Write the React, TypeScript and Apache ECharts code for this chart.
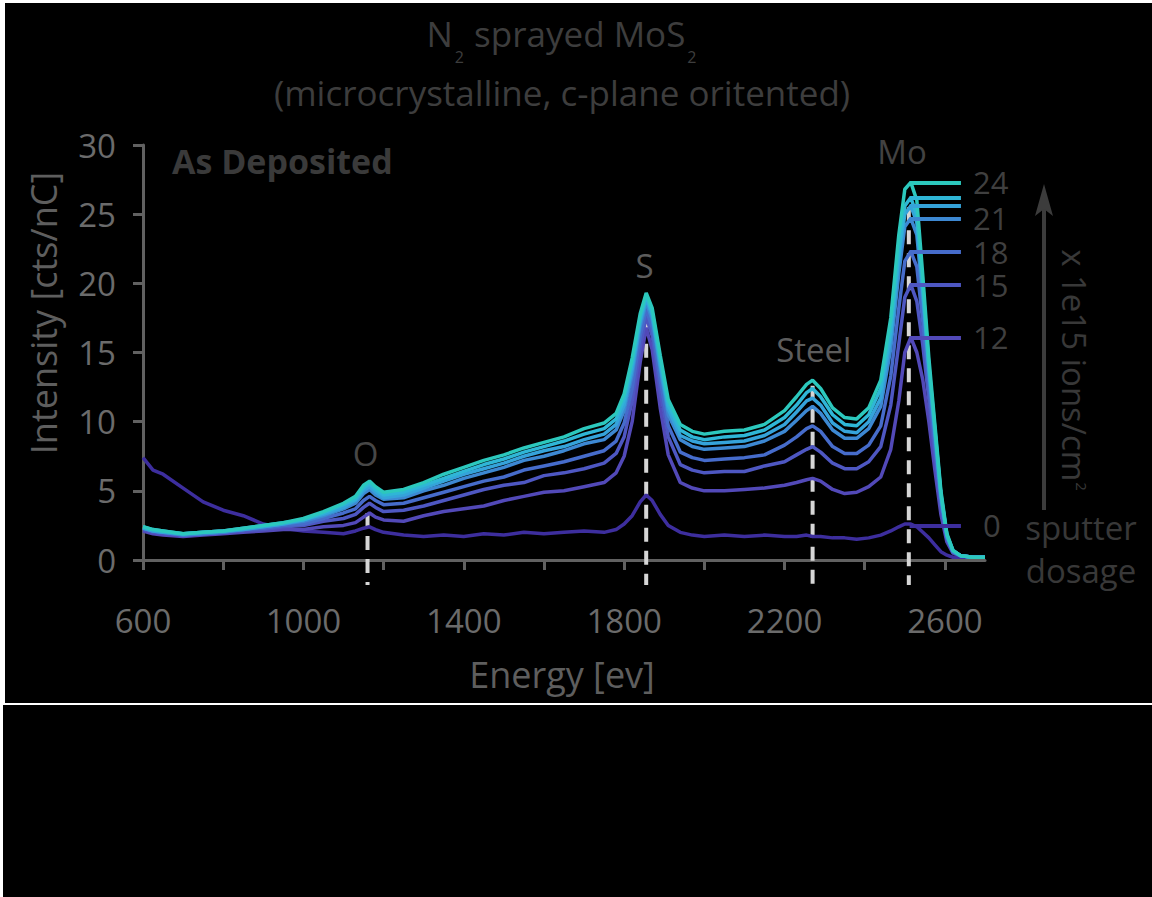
import React, { useEffect, useRef } from 'react';
import * as echarts from 'echarts';

const FONT = '"Open Sans", "Noto Sans", sans-serif';

const energy = [600, 625, 650, 700, 750, 800, 850, 900, 950, 1000, 1050, 1100, 1130, 1150, 1165, 1180, 1200, 1250, 1300, 1350, 1400, 1450, 1500, 1550, 1600, 1650, 1700, 1750, 1780, 1800, 1820, 1840, 1855, 1870, 1890, 1910, 1940, 1970, 2000, 2050, 2100, 2150, 2200, 2230, 2255, 2270, 2290, 2320, 2350, 2380, 2410, 2440, 2465, 2485, 2500, 2515, 2530, 2545, 2560, 2575, 2590, 2605, 2620, 2640, 2670, 2700];

const dose0 = [7.4, 6.5, 6.2, 5.2, 4.2, 3.6, 3.2, 2.6, 2.3, 2.1, 2.0, 1.9, 2.1, 2.3, 2.4, 2.2, 2.0, 1.8, 1.7, 1.8, 1.7, 1.9, 1.8, 2.0, 1.9, 2.0, 2.1, 2.0, 2.2, 2.6, 3.2, 4.2, 4.7, 4.3, 3.3, 2.5, 2.0, 1.8, 1.7, 1.8, 1.7, 1.8, 1.7, 1.7, 1.8, 1.7, 1.7, 1.6, 1.6, 1.5, 1.6, 1.8, 2.1, 2.4, 2.6, 2.6, 2.4, 2.0, 1.6, 1.1, 0.6, 0.35, 0.2, 0.2, 0.2, 0.2];
const dose12 = [2.1, 1.9, 1.8, 1.7, 1.8, 1.9, 2.0, 2.1, 2.2, 2.2, 2.4, 2.5, 2.7, 3.1, 3.4, 3.1, 2.9, 2.8, 3.2, 3.5, 3.7, 3.9, 4.3, 4.6, 4.9, 5.0, 5.3, 5.6, 6.3, 7.5, 10.0, 14.3, 16.8, 15.2, 11.0, 7.6, 5.6, 5.2, 5.0, 5.0, 5.1, 5.2, 5.4, 5.6, 5.8, 5.9, 5.7, 5.1, 4.8, 4.9, 5.3, 6.0, 8.0, 11.5, 15.0, 16.1, 15.0, 13.0, 10.0, 6.5, 3.3, 1.3, 0.5, 0.3, 0.2, 0.2];
const dose15 = [2.2, 2.0, 1.9, 1.8, 1.9, 2.0, 2.1, 2.2, 2.4, 2.5, 2.8, 3.0, 3.3, 3.8, 4.1, 3.8, 3.5, 3.6, 3.9, 4.3, 4.7, 5.1, 5.4, 5.6, 6.1, 6.3, 6.6, 7.0, 7.7, 8.9, 11.5, 15.4, 17.6, 16.2, 12.2, 8.9, 6.9, 6.5, 6.3, 6.4, 6.4, 6.8, 7.1, 7.6, 8.0, 8.2, 7.8, 7.0, 6.6, 6.6, 7.1, 8.2, 11.2, 15.6, 19.0, 19.9, 18.7, 15.5, 11.6, 7.6, 3.9, 1.5, 0.6, 0.3, 0.2, 0.2];
const dose18 = [2.3, 2.1, 2.0, 1.8, 1.9, 2.0, 2.2, 2.3, 2.5, 2.6, 3.0, 3.4, 3.7, 4.3, 4.6, 4.3, 4.0, 4.1, 4.5, 4.9, 5.3, 5.7, 6.0, 6.5, 6.8, 7.1, 7.5, 7.9, 8.6, 9.9, 12.4, 16.2, 18.1, 16.8, 13.0, 9.7, 7.8, 7.4, 7.2, 7.3, 7.4, 7.6, 8.3, 8.9, 9.5, 9.7, 9.3, 8.2, 7.7, 7.7, 8.3, 9.7, 13.3, 18.2, 21.6, 22.3, 21.2, 17.2, 12.6, 8.3, 4.2, 1.6, 0.6, 0.3, 0.2, 0.2];
const dose21 = [2.3, 2.1, 2.0, 1.8, 1.9, 2.0, 2.2, 2.4, 2.6, 2.8, 3.2, 3.7, 4.1, 4.8, 5.1, 4.7, 4.4, 4.5, 5.0, 5.4, 5.9, 6.3, 6.7, 7.2, 7.5, 7.9, 8.4, 8.7, 9.4, 10.8, 13.4, 16.9, 18.6, 17.4, 13.8, 10.5, 8.7, 8.2, 8.0, 8.1, 8.2, 8.6, 9.3, 10.1, 10.8, 11.1, 10.6, 9.4, 8.8, 8.8, 9.5, 11.1, 15.3, 20.7, 24.1, 24.7, 23.5, 18.8, 13.5, 9.0, 4.6, 1.7, 0.6, 0.3, 0.2, 0.2];
const dose22 = [2.3, 2.1, 2.0, 1.9, 2.0, 2.1, 2.2, 2.4, 2.6, 2.9, 3.3, 3.8, 4.3, 5.0, 5.3, 4.9, 4.5, 4.7, 5.2, 5.7, 6.2, 6.6, 7.0, 7.5, 7.9, 8.2, 8.7, 9.1, 9.8, 11.2, 13.8, 17.2, 18.9, 17.7, 14.1, 10.9, 9.0, 8.6, 8.4, 8.5, 8.6, 9.0, 9.8, 10.7, 11.5, 11.7, 11.2, 9.9, 9.3, 9.2, 10.0, 11.7, 16.1, 21.7, 25.0, 25.6, 24.4, 19.4, 13.9, 9.3, 4.7, 1.8, 0.7, 0.3, 0.2, 0.2];
const dose23 = [2.4, 2.2, 2.1, 1.9, 2.0, 2.1, 2.3, 2.5, 2.7, 2.9, 3.4, 4.0, 4.4, 5.2, 5.5, 5.1, 4.7, 4.9, 5.4, 5.9, 6.4, 6.9, 7.3, 7.8, 8.2, 8.6, 9.1, 9.5, 10.2, 11.6, 14.2, 17.5, 19.1, 17.9, 14.5, 11.2, 9.4, 8.9, 8.7, 8.9, 9.0, 9.4, 10.3, 11.2, 12.1, 12.4, 11.8, 10.5, 9.8, 9.7, 10.5, 12.4, 16.6, 22.3, 25.6, 26.2, 24.9, 19.8, 14.1, 9.5, 4.8, 1.8, 0.7, 0.3, 0.2, 0.2];
const dose24 = [2.4, 2.2, 2.1, 1.9, 2.0, 2.1, 2.3, 2.5, 2.7, 3.0, 3.5, 4.1, 4.6, 5.4, 5.7, 5.3, 4.9, 5.1, 5.6, 6.2, 6.7, 7.2, 7.6, 8.1, 8.5, 8.9, 9.5, 9.9, 10.6, 12.0, 14.6, 17.8, 19.3, 18.2, 14.8, 11.6, 9.8, 9.3, 9.1, 9.3, 9.4, 9.8, 10.8, 11.8, 12.7, 13.0, 12.4, 11.0, 10.3, 10.2, 11.0, 13.0, 17.5, 23.5, 26.8, 27.3, 26.0, 20.5, 14.6, 9.8, 5.0, 1.9, 0.7, 0.3, 0.2, 0.2];

const doses = ['0', '12', '15', '18', '21', '22', '23', '24'];
const doseSeries = [dose0, dose12, dose15, dose18, dose21, dose22, dose23, dose24];
const doseColors = ['#3d2e9e', '#5249b8', '#4e57c2', '#466ccb', '#3d88d2', '#35a3da', '#2fb6d6', '#2cc8bd'];
const peakValues = [2.5, 16.1, 19.9, 22.3, 24.7, 25.6, 26.2, 27.3];
const showDoseLabel = [true, true, true, true, true, false, false, true];
const peakLineStart = 2512;
const peakLineEnd = 2640;

const elementNames = ['O', 'S', 'Steel', 'Mo'];
const elementEnergy = [1160, 1855, 2270, 2510];
const elementDashTop = [3.4, 17.3, 12.6, 25.5];
const elementLabelPos = [[1155, 7.7], [1851, 21.3], [2273, 15.2], [2493, 29.5]];
const elementLabelColors = ['#474747', '#5c5c5c', '#5c5c5c', '#424242'];

const xTickValues = [600, 800, 1000, 1200, 1400, 1600, 1800, 2000, 2200, 2400, 2600];
const xLabelValues = [600, 1000, 1400, 1800, 2200, 2600];

export default function App() {
  const ref = useRef<HTMLDivElement>(null);
  useEffect(() => {
    const chart = echarts.init(ref.current as HTMLDivElement, null, { renderer: 'svg' });
    const lineSeries = doseSeries.map((d, i) => ({
      type: 'line',
      name: doses[i],
      data: energy.map((e, k) => [e, d[k]]),
      showSymbol: false,
      symbol: 'none',
      silent: true,
      z: 3,
      emphasis: { disabled: true },
      lineStyle: { color: doseColors[i], width: 3.5 },
      itemStyle: { color: doseColors[i] },
      markLine: {
        silent: true,
        symbol: ['none', 'none'],
        animation: false,
        lineStyle: { color: doseColors[i], width: 4, type: 'solid' },
        emphasis: { disabled: true },
        label: {
          show: showDoseLabel[i],
          position: 'end',
          formatter: doses[i],
          color: '#3f3f3f',
          fontSize: 31,
          lineHeight: 30,
          fontFamily: FONT,
          distance: i === 0 ? 22 : 12,
        },
        data: [[{ coord: [peakLineStart, peakValues[i]] }, { coord: [peakLineEnd, peakValues[i]] }]],
      },
    }));

    const option = {
      animation: false,
      backgroundColor: '#000',
      textStyle: { fontFamily: FONT },
      grid: { left: 143, right: 167, top: 145, bottom: 337, containLabel: false },
      xAxis: {
        type: 'value',
        min: 600,
        max: 2700,
        offset: 27,
        axisLine: { show: true, lineStyle: { color: '#616161', width: 3 } },
        axisTick: { show: true, length: 10, lineStyle: { color: '#616161', width: 3 }, customValues: xTickValues },
        axisLabel: {
          color: '#6b6b6b', fontSize: 33, fontFamily: FONT, margin: 17, customValues: xLabelValues,
          formatter: (v: number) => String(v),
        },
        splitLine: { show: false },
      },
      yAxis: {
        type: 'value',
        min: 0,
        max: 30,
        interval: 5,
        axisLine: { show: true, lineStyle: { color: '#616161', width: 3 } },
        axisTick: { show: true, length: 10, lineStyle: { color: '#616161', width: 3 } },
        axisLabel: { color: '#6b6b6b', fontSize: 33, fontFamily: FONT, margin: 27, formatter: (v: number) => String(v) },
        splitLine: { show: false },
      },
      series: [
        {
          type: 'custom',
          name: 'element lines',
          silent: true,
          z: 1,
          clip: false,
          data: elementEnergy.map((e, i) => [e, elementDashTop[i]]),
          renderItem: (params: any, api: any) => {
            const top = api.coord([api.value(0), api.value(1)]);
            const base = api.coord([api.value(0), 0]);
            return {
              type: 'line',
              shape: { x1: top[0], y1: top[1], x2: top[0], y2: base[1] + 25 },
              style: { stroke: '#d6d6d6', lineWidth: 4, lineDash: [14, 9] },
            };
          },
        },
        {
          type: 'custom',
          name: 'element labels',
          silent: true,
          z: 4,
          clip: false,
          data: elementLabelPos,
          renderItem: (params: any, api: any) => {
            const p = api.coord([api.value(0), api.value(1)]);
            return {
              type: 'text',
              x: p[0],
              y: p[1],
              style: {
                text: elementNames[params.dataIndex],
                fill: elementLabelColors[params.dataIndex],
                fontSize: 33,
                fontFamily: FONT,
                align: 'center',
                verticalAlign: 'middle',
              },
            };
          },
        },
        ...lineSeries,
      ],
      graphic: [
        { type: 'rect', shape: { x: 0, y: 0, width: 1152, height: 3 }, style: { fill: '#fff' } },
        { type: 'rect', shape: { x: 0, y: 0, width: 5, height: 705 }, style: { fill: '#fff' } },
        { type: 'rect', shape: { x: 0, y: 703, width: 1152, height: 2 }, style: { fill: '#fff' } },
        { type: 'rect', shape: { x: 0, y: 705, width: 3, height: 192 }, style: { fill: '#fff' } },
        {
          type: 'text', x: 562, y: 16,
          style: {
            text: '{a|N}{s|2}{a| sprayed MoS}{s|2}',
            align: 'center', verticalAlign: 'top', fill: '#3d3d3d', fontFamily: FONT,
            rich: {
              a: { fontSize: 35, lineHeight: 40, verticalAlign: 'top', fill: '#3d3d3d', fontFamily: FONT },
              s: { fontSize: 16, lineHeight: 14, verticalAlign: 'top', padding: [33, 1, 0, 2], fill: '#3d3d3d', fontFamily: FONT },
            },
          },
        },
        {
          type: 'text', x: 562, y: 92,
          style: { text: '(microcrystalline, c-plane oritented)', align: 'center', verticalAlign: 'middle', fill: '#3d3d3d', fontSize: 35, lineHeight: 34, fontFamily: FONT },
        },
        {
          type: 'text', x: 172, y: 161,
          style: { text: 'As Deposited', align: 'left', verticalAlign: 'middle', fill: '#3a3a3a', fontSize: 34, fontWeight: 'bold', fontFamily: FONT },
        },
        {
          type: 'text', x: 43, y: 313, rotation: Math.PI / 2,
          style: { text: 'Intensity [cts/nC]', align: 'center', verticalAlign: 'middle', fill: '#5e5e5e', fontSize: 36, fontFamily: FONT },
        },
        {
          type: 'text', x: 562, y: 674,
          style: { text: 'Energy [ev]', align: 'center', verticalAlign: 'middle', fill: '#5e5e5e', fontSize: 36, fontFamily: FONT },
        },
        {
          type: 'text', x: 1081, y: 527,
          style: { text: 'sputter', align: 'center', verticalAlign: 'middle', fill: '#383838', fontSize: 33, lineHeight: 36, fontFamily: FONT },
        },
        {
          type: 'text', x: 1081, y: 570,
          style: { text: 'dosage', align: 'center', verticalAlign: 'middle', fill: '#383838', fontSize: 33, lineHeight: 36, fontFamily: FONT },
        },
        {
          type: 'line', shape: { x1: 1044, y1: 510, x2: 1044, y2: 205 },
          style: { stroke: '#3c3c3c', lineWidth: 4 },
        },
        {
          type: 'polygon', shape: { points: [[1044, 184], [1035, 216], [1044, 209], [1053, 216]] },
          style: { fill: '#3c3c3c' },
        },
        {
          type: 'text', x: 1072, y: 370, rotation: -Math.PI / 2,
          style: {
            text: '{a|x 1e15 ions/cm}{p|2}',
            align: 'center', verticalAlign: 'middle', fill: '#383838', fontFamily: FONT,
            rich: {
              a: { fontSize: 33, lineHeight: 38, verticalAlign: 'top', fill: '#383838', fontFamily: FONT },
              p: { fontSize: 15, lineHeight: 15, verticalAlign: 'top', padding: [2, 0, 0, 1], fill: '#383838', fontFamily: FONT },
            },
          },
        },
      ],
    };
    chart.setOption(option as any);
    return () => chart.dispose();
  }, []);
  return <div ref={ref} style={{ position: 'fixed', left: 0, top: 0, width: 1152, height: 897 }} />;
}
